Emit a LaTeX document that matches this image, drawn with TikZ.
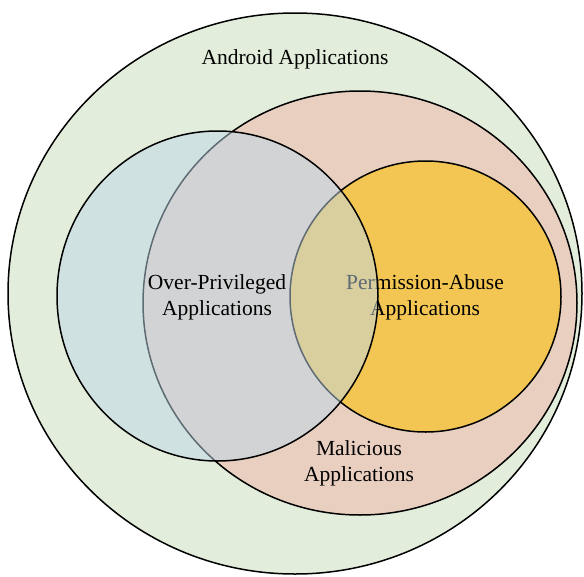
\documentclass[tikz,border=0pt]{standalone}
\usepackage{fontspec}
\setmainfont{Liberation Serif}
\definecolor{androidgreen}{RGB}{226,238,219}
\definecolor{maliciousred}{RGB}{232,207,192}
\definecolor{abuseyellow}{RGB}{243,198,84}
\definecolor{overblue}{RGB}{190,215,232}
\begin{document}
\begin{tikzpicture}[x=1pt,y=-1pt,every node/.style={align=center,font=\fontsize{21.5}{26}\selectfont},
    set/.style={draw=black,line width=1.5pt}]
    \useasboundingbox (0,0) rectangle (584,576);
    \draw[set,fill=androidgreen] (295,293.5) ellipse [x radius=287,y radius=280.5];
    \node (android) at (295,59) {Android Applications};
    \draw[set,fill=maliciousred] (360,303) ellipse [x radius=217,y radius=212];
    \node (malicious) at (359,463) {Malicious\\Applications};
    \draw[set,fill=abuseyellow] (425.5,296.5) circle [radius=135.5];
    \node (abuse) at (425,297.5) {Permission-Abuse\\Applications};
    \draw[set,fill=overblue,fill opacity=0.5] (217.5,296) ellipse [x radius=160.5,y radius=165];
    \node (over) at (217,297.5) {Over-Privileged\\Applications};
\end{tikzpicture}
\end{document}
